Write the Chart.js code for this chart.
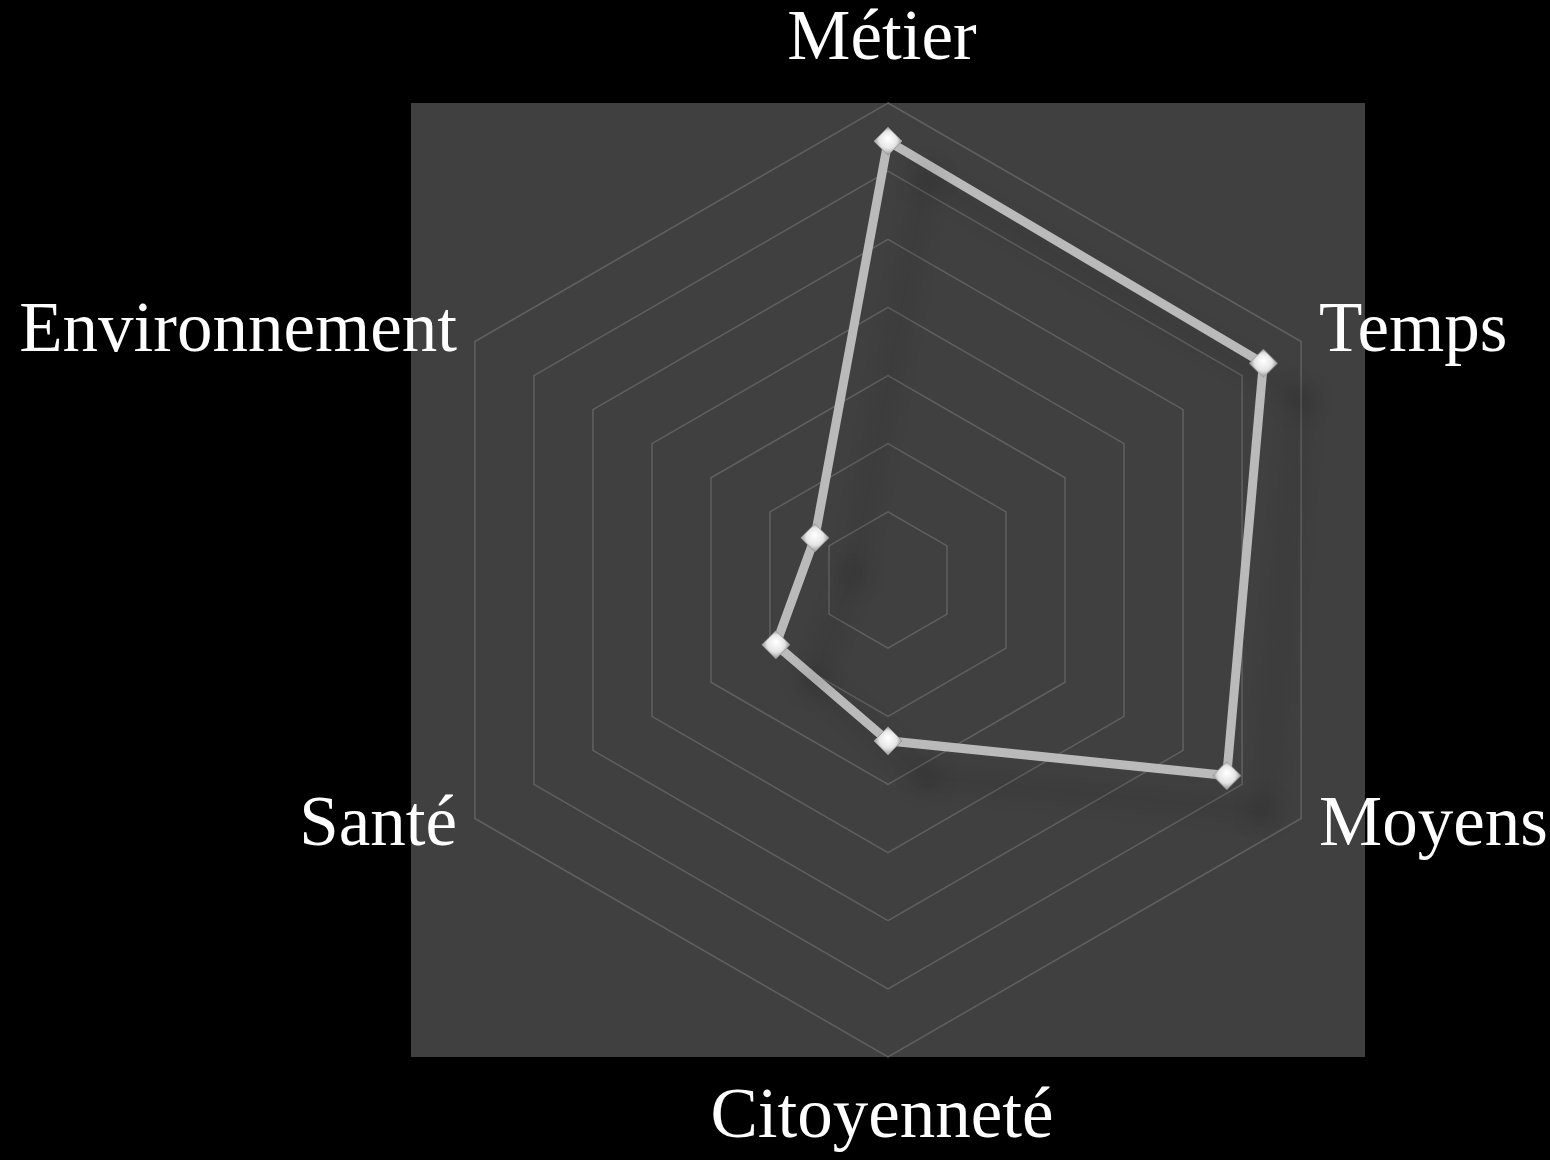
<!DOCTYPE html>
<html>
<head>
<meta charset="utf-8">
<script src="https://cdn.jsdelivr.net/npm/chart.js@4"></script>
<style>
  html, body { margin: 0; padding: 0; background: #000; }
  #wrap { width: 1550px; height: 1160px; }
</style>
</head>
<body>
<div id="wrap"><canvas id="radar"></canvas></div>
<script>
const categories = ['Métier', 'Temps', 'Moyens', 'Citoyenneté', 'Santé', 'Environnement'];
const scores = [64.4, 63.6, 57.4, 23.6, 19.0, 12.4];
const scaleMax = 70;
const scaleStep = 10;

// diamond marker with a soft highlight
function makeDiamond(size) {
  const c = document.createElement('canvas');
  c.width = size;
  c.height = size;
  const g = c.getContext('2d');
  const h = size / 2;
  const grad = g.createRadialGradient(h, h * 0.8, 1, h, h, h);
  grad.addColorStop(0, '#ffffff');
  grad.addColorStop(0.55, '#e6e6e6');
  grad.addColorStop(1, '#8a8a8a');
  g.beginPath();
  g.moveTo(h, 1);
  g.lineTo(size - 1, h);
  g.lineTo(h, size - 1);
  g.lineTo(1, h);
  g.closePath();
  g.fillStyle = grad;
  g.fill();
  g.strokeStyle = '#9a9a9a';
  g.lineWidth = 1;
  g.stroke();
  return c;
}

const panelPlugin = {
  id: 'panel',
  beforeDraw(chart) {
    const { ctx } = chart;
    const r = chart.scales.r;
    ctx.save();
    ctx.fillStyle = '#000000';
    ctx.fillRect(0, 0, chart.width, chart.height);
    ctx.fillStyle = '#404040';
    ctx.fillRect(r.xCenter - r.drawingArea, r.yCenter - r.drawingArea, r.drawingArea * 2, r.drawingArea * 2);
    ctx.restore();
  },
};

// labels drawn by hand so the radar itself can keep a fixed size
const labelPlugin = {
  id: 'outerLabels',
  afterDraw(chart) {
    const { ctx } = chart;
    const r = chart.scales.r;
    ctx.save();
    ctx.fillStyle = '#ffffff';
    ctx.font = '71px "Liberation Serif", serif';
    categories.forEach((label, i) => {
      const p = r.getPointPosition(i, r.drawingArea);
      const dx = p.x - r.xCenter;
      let x = p.x;
      let y = p.y;
      if (Math.abs(dx) < 1) {
        ctx.textAlign = 'center';
        if (p.y < r.yCenter) {
          ctx.textBaseline = 'alphabetic';
          y -= 44;
          x -= 6;
        } else {
          ctx.textBaseline = 'top';
          y += 26;
          x -= 6;
        }
      } else {
        ctx.textAlign = dx > 0 ? 'left' : 'right';
        ctx.textBaseline = 'middle';
        x += dx > 0 ? 18 : -18;
        y += p.y < r.yCenter ? -9 : 8;
      }
      ctx.fillText(label, x, y);
    });
    ctx.restore();
  },
};

const shadowPlugin = {
  id: 'markerShadow',
  beforeDatasetDraw(chart) {
    const { ctx } = chart;
    ctx.save();
    ctx.shadowColor = 'rgba(0, 0, 0, 0.16)';
    ctx.shadowBlur = 22;
    ctx.shadowOffsetX = 38;
    ctx.shadowOffsetY = 36;
  },
  afterDatasetDraw(chart) {
    chart.ctx.restore();
  },
};

new Chart(document.getElementById('radar'), {
  type: 'radar',
  data: {
    labels: categories,
    datasets: [
      {
        data: scores,
        borderColor: '#bababa',
        borderWidth: 9,
        backgroundColor: 'rgba(0,0,0,0)',
        fill: false,
        tension: 0,
        pointStyle: makeDiamond(30),
        pointRadius: 15,
        pointHoverRadius: 15,
      },
    ],
  },
  options: {
    responsive: true,
    maintainAspectRatio: false,
    animation: false,
    layout: {
      padding: { left: 411, top: 103, right: 185, bottom: 103 },
    },
    scales: {
      r: {
        min: 0,
        max: scaleMax,
        ticks: { display: false, stepSize: scaleStep },
        pointLabels: { display: false },
        angleLines: { display: false },
        grid: { color: '#606060', lineWidth: 1.5 },
      },
    },
    plugins: {
      legend: { display: false },
      tooltip: { enabled: false },
    },
  },
  plugins: [panelPlugin, shadowPlugin, labelPlugin],
});
</script>
</body>
</html>
